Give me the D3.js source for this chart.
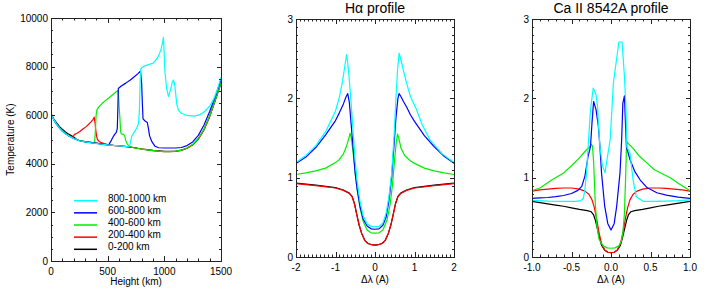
<!DOCTYPE html>
<html>
<head>
<meta charset="utf-8">
<script src="https://d3js.org/d3.v7.min.js"></script>
<style>
body { margin: 0; background: #fff; }
svg text { font-family: "Liberation Sans", Arial, Helvetica, sans-serif; fill: #000; }
.tick-label { font-size: 10px; }
.title { font-size: 14px; }
.axis-title { font-size: 10px; }
.legend text { font-size: 10px; }
.curve { fill: none; stroke-width: 1.2px; stroke-linejoin: round; }
.frame { fill: none; stroke: #222; stroke-width: 1px; }
.tick { stroke: #222; stroke-width: 1px; }
</style>
</head>
<body>
<svg id="chart" width="708" height="295"></svg>
<script>
// series: black, red, green, blue, cyan  (0-200 ... 800-1000 km)
var seriesColors = ["#000000", "#ff0000", "#00ee00", "#0000ff", "#00ffff"];
var legendLabels = ["800-1000 km", "600-800 km", "400-600 km", "200-400 km", "0-200 km"];
var legendColors = ["#00ffff", "#0000ff", "#00ee00", "#ff0000", "#000000"];

// ---- panel 1 : temperature (K) vs height (km)
var temp0_200 = [[0,6060],[25,5830],[50,5680],[75,5530],[100,5420],[125,5320],[150,5240],[175,5170],[200,5100],[225,5010],[250,4960],[300,4910],[350,4880],[400,4850],[450,4820],[500,4790],[550,4760],[600,4740],[650,4720],[700,4690],[750,4650],[800,4610],[850,4580],[900,4550],[950,4530],[1000,4510],[1050,4510],[1100,4520],[1150,4560],[1200,4640],[1250,4780],[1300,5020],[1350,5400],[1400,5950],[1450,6620],[1500,7330]];
var temp200_400 = [[0,6060],[25,5820],[50,5630],[75,5480],[100,5360],[125,5260],[150,5180],[175,5110],[195,5100],[205,5200],[230,5260],[254,5330],[285,5440],[313,5540],[340,5660],[357,5745],[372,5830],[381,5920],[388,5700],[395,5400],[402,5150],[410,5000],[425,4920],[445,4870],[470,4820],[500,4790],[550,4760],[600,4740],[650,4720],[700,4690],[750,4650],[800,4610],[850,4575],[900,4545],[950,4520],[1000,4500],[1050,4500],[1100,4515],[1150,4555],[1200,4640],[1250,4780],[1300,5020],[1350,5400],[1400,5950],[1450,6620],[1500,7320]];
var temp400_600 = [[0,6060],[25,5820],[50,5630],[75,5480],[100,5360],[125,5260],[150,5180],[175,5110],[200,5050],[250,4960],[300,4910],[350,4880],[380,4860],[386,4950],[392,5400],[398,6000],[405,6220],[420,6330],[450,6480],[480,6600],[520,6750],[560,6900],[590,7020],[596,6800],[602,6300],[608,5900],[614,5350],[620,5230],[640,5210],[650,5150],[660,4950],[672,4820],[690,4720],[720,4670],[750,4640],[800,4605],[850,4575],[900,4545],[950,4520],[1000,4505],[1050,4505],[1100,4520],[1150,4560],[1200,4650],[1250,4790],[1300,5040],[1350,5420],[1400,5970],[1450,6640],[1500,7340]];
var temp600_800 = [[0,6060],[25,5810],[50,5620],[75,5470],[100,5350],[125,5250],[150,5170],[175,5100],[200,5040],[250,4950],[300,4900],[350,4870],[400,4840],[450,4810],[490,4780],[510,4790],[525,4900],[545,5080],[560,5200],[575,5280],[585,5450],[590,6300],[594,7100],[620,7200],[660,7320],[700,7450],[740,7600],[770,7720],[790,7820],[800,7300],[806,6500],[812,5850],[830,5760],[850,5700],[858,5500],[870,5150],[889,4920],[918,4720],[950,4660],[1000,4650],[1100,4650],[1150,4670],[1200,4750],[1250,4900],[1300,5170],[1350,5600],[1400,6150],[1450,6780],[1500,7460]];
var temp800_1000 = [[0,6060],[25,5810],[50,5620],[75,5470],[100,5350],[125,5250],[150,5170],[175,5100],[200,5040],[250,4950],[300,4900],[350,4865],[400,4835],[450,4805],[500,4775],[550,4755],[600,4735],[650,4715],[680,4700],[695,4760],[712,5130],[740,5350],[756,5470],[772,5650],[780,6200],[786,7300],[792,7900],[815,8010],[860,8080],[903,8150],[930,8300],[950,8450],[970,8700],[985,9000],[992,9200],[998,8600],[1005,7800],[1020,7100],[1036,6770],[1055,7050],[1070,7350],[1080,7450],[1090,7300],[1100,6900],[1110,6450],[1125,6200],[1150,6080],[1200,5990],[1260,5960],[1310,6010],[1350,6130],[1400,6370],[1435,6660],[1470,7080],[1500,7570]];

// ---- panel 2 : H-alpha profile, intensity vs delta lambda (A)
var ha0_200 = [[-2,0.93],[-1.5,0.905],[-1.0,0.875],[-0.8,0.845],[-0.65,0.805],[-0.58,0.765],[-0.52,0.675],[-0.46,0.535],[-0.4,0.4],[-0.34,0.3],[-0.26,0.21],[-0.18,0.17],[-0.08,0.155],[0,0.15],[0.08,0.155],[0.18,0.17],[0.26,0.21],[0.34,0.3],[0.4,0.4],[0.46,0.535],[0.52,0.675],[0.58,0.765],[0.65,0.805],[0.8,0.845],[1.0,0.875],[1.5,0.905],[2,0.93]];
var ha200_400 = [[-2,0.925],[-1.5,0.9],[-1.0,0.87],[-0.8,0.84],[-0.65,0.8],[-0.58,0.76],[-0.52,0.67],[-0.46,0.53],[-0.4,0.4],[-0.34,0.3],[-0.26,0.21],[-0.18,0.17],[-0.08,0.155],[0,0.15],[0.08,0.155],[0.18,0.17],[0.26,0.21],[0.34,0.3],[0.4,0.4],[0.46,0.53],[0.52,0.67],[0.58,0.76],[0.65,0.8],[0.8,0.84],[1.0,0.87],[1.5,0.9],[2,0.925]];
var ha400_600 = [[-2,1.04],[-1.75,1.06],[-1.5,1.085],[-1.25,1.12],[-1.0,1.19],[-0.9,1.23],[-0.8,1.3],[-0.72,1.4],[-0.66,1.5],[-0.63,1.56],[-0.6,1.5],[-0.55,1.3],[-0.5,1.05],[-0.45,0.85],[-0.38,0.62],[-0.3,0.45],[-0.2,0.34],[-0.1,0.305],[0,0.3],[0.1,0.305],[0.2,0.34],[0.3,0.46],[0.38,0.65],[0.44,0.9],[0.5,1.25],[0.54,1.45],[0.57,1.55],[0.6,1.5],[0.66,1.37],[0.75,1.28],[0.9,1.21],[1.0,1.18],[1.25,1.12],[1.5,1.085],[1.75,1.06],[2,1.04]];
var ha600_800 = [[-2,1.18],[-1.75,1.26],[-1.5,1.38],[-1.25,1.54],[-1.0,1.72],[-0.9,1.82],[-0.8,1.93],[-0.74,2.01],[-0.69,2.06],[-0.65,1.95],[-0.6,1.65],[-0.55,1.35],[-0.5,1.05],[-0.45,0.85],[-0.38,0.64],[-0.3,0.48],[-0.2,0.39],[-0.1,0.355],[0,0.35],[0.1,0.355],[0.2,0.4],[0.28,0.5],[0.35,0.7],[0.42,1.0],[0.48,1.4],[0.53,1.75],[0.58,2.0],[0.61,2.06],[0.66,2.02],[0.72,1.96],[0.8,1.89],[0.9,1.79],[1.0,1.71],[1.25,1.53],[1.5,1.39],[1.75,1.27],[2,1.18]];
var ha800_1000 = [[-2,1.19],[-1.75,1.28],[-1.5,1.4],[-1.25,1.58],[-1.0,1.84],[-0.9,2.02],[-0.82,2.22],[-0.76,2.42],[-0.72,2.55],[-0.68,2.4],[-0.62,2.05],[-0.56,1.62],[-0.5,1.2],[-0.45,0.95],[-0.38,0.7],[-0.3,0.52],[-0.2,0.42],[-0.1,0.385],[0,0.38],[0.1,0.385],[0.2,0.43],[0.28,0.55],[0.35,0.75],[0.42,1.05],[0.48,1.5],[0.53,2.0],[0.57,2.35],[0.61,2.57],[0.66,2.48],[0.72,2.35],[0.8,2.19],[0.9,2.02],[1.05,1.86],[1.2,1.66],[1.4,1.47],[1.7,1.3],[2,1.19]];

// ---- panel 3 : Ca II 8542 profile
var ca0_200 = [[-1,0.70],[-0.9,0.685],[-0.8,0.67],[-0.7,0.655],[-0.6,0.64],[-0.5,0.62],[-0.4,0.6],[-0.3,0.585],[-0.25,0.57],[-0.22,0.53],[-0.2,0.47],[-0.18,0.39],[-0.15,0.26],[-0.12,0.15],[-0.08,0.085],[-0.04,0.06],[0,0.055],[0.04,0.06],[0.08,0.085],[0.12,0.15],[0.15,0.26],[0.18,0.39],[0.2,0.47],[0.22,0.53],[0.25,0.57],[0.3,0.585],[0.4,0.6],[0.5,0.62],[0.6,0.64],[0.7,0.655],[0.8,0.67],[0.9,0.685],[1,0.70]];
var ca200_400 = [[-1,0.83],[-0.9,0.845],[-0.8,0.855],[-0.7,0.865],[-0.6,0.87],[-0.5,0.87],[-0.4,0.855],[-0.33,0.83],[-0.28,0.79],[-0.24,0.72],[-0.21,0.62],[-0.18,0.47],[-0.15,0.3],[-0.12,0.17],[-0.08,0.09],[-0.04,0.06],[0,0.055],[0.04,0.06],[0.08,0.09],[0.12,0.17],[0.15,0.3],[0.18,0.47],[0.21,0.62],[0.24,0.72],[0.28,0.79],[0.33,0.83],[0.4,0.855],[0.5,0.87],[0.6,0.87],[0.7,0.865],[0.8,0.855],[0.9,0.845],[1,0.83]];
var ca400_600 = [[-1,0.835],[-0.9,0.87],[-0.75,0.97],[-0.6,1.06],[-0.5,1.15],[-0.4,1.25],[-0.33,1.33],[-0.28,1.38],[-0.25,1.42],[-0.235,1.4],[-0.22,1.2],[-0.2,0.7],[-0.18,0.4],[-0.15,0.22],[-0.1,0.14],[-0.05,0.115],[0,0.11],[0.05,0.115],[0.1,0.14],[0.13,0.2],[0.15,0.3],[0.17,0.55],[0.185,1.0],[0.195,1.35],[0.205,1.45],[0.22,1.43],[0.28,1.37],[0.35,1.28],[0.45,1.19],[0.55,1.1],[0.65,1.05],[0.75,1.0],[0.85,0.93],[1,0.835]];
var ca600_800 = [[-1,0.74],[-0.9,0.745],[-0.8,0.75],[-0.7,0.76],[-0.6,0.775],[-0.5,0.8],[-0.42,0.84],[-0.37,0.89],[-0.33,1.02],[-0.29,1.27],[-0.26,1.39],[-0.24,1.7],[-0.22,1.96],[-0.19,1.86],[-0.16,1.65],[-0.14,1.39],[-0.12,1.06],[-0.08,0.64],[-0.04,0.42],[0,0.34],[0.04,0.42],[0.072,0.64],[0.114,1.06],[0.135,1.48],[0.15,1.94],[0.17,2.03],[0.18,1.77],[0.195,1.39],[0.24,1.23],[0.3,1.08],[0.37,0.97],[0.45,0.88],[0.58,0.81],[0.7,0.78],[0.85,0.755],[1,0.74]];
var ca800_1000 = [[-1,0.715],[-0.8,0.705],[-0.6,0.70],[-0.45,0.70],[-0.38,0.71],[-0.35,0.74],[-0.33,0.85],[-0.31,1.06],[-0.29,1.39],[-0.26,1.85],[-0.225,2.13],[-0.19,2.05],[-0.17,1.9],[-0.16,1.69],[-0.14,1.39],[-0.11,1.16],[-0.076,1.06],[-0.05,1.23],[-0.01,1.48],[0.03,2.19],[0.07,2.49],[0.1,2.71],[0.14,2.71],[0.17,2.28],[0.19,1.86],[0.2,1.39],[0.24,1.31],[0.28,0.97],[0.32,0.76],[0.41,0.70],[0.5,0.70],[0.7,0.705],[0.85,0.71],[1,0.72]];

// axis ticks
var heightTicks = [0, 500, 1000, 1500];
var tempTicks = [0, 2000, 4000, 6000, 8000, 10000];
var haTicks = [-2, -1, 0, 1, 2];
var caTicks = [-1.0, -0.5, 0.0, 0.5, 1.0];
var intensityTicks = [0, 1, 2, 3];

var svg = d3.select("#chart");

function drawPanel(cfg) {
    var x = d3.scaleLinear().domain(cfg.xDomain).range([cfg.left, cfg.right]);
    var y = d3.scaleLinear().domain(cfg.yDomain).range([cfg.bottom, cfg.top]);
    var g = svg.append("g");
    var clipId = "clip" + cfg.id;
    g.append("clipPath").attr("id", clipId).append("rect")
        .attr("x", cfg.left).attr("y", cfg.top)
        .attr("width", cfg.right - cfg.left).attr("height", cfg.bottom - cfg.top);

    var line = d3.line().x(function(d) { return x(d[0]); }).y(function(d) { return y(d[1]); });
    g.append("g").attr("clip-path", "url(#" + clipId + ")")
        .selectAll("path").data(cfg.series).enter().append("path")
        .attr("class", "curve")
        .attr("stroke", function(d, i) { return seriesColors[i]; })
        .attr("d", line);

    // frame
    g.append("rect").attr("class", "frame")
        .attr("x", cfg.left + 0.5).attr("y", cfg.top + 0.5)
        .attr("width", cfg.right - cfg.left).attr("height", cfg.bottom - cfg.top);

    // minor + major ticks, pointing inward on all four sides
    var xMinor = d3.range(cfg.xDomain[0], cfg.xDomain[1] + 1e-9, cfg.xMinorStep);
    var yMinor = d3.range(cfg.yDomain[0], cfg.yDomain[1] + 1e-9, cfg.yMinorStep);
    var ticks = g.append("g");
    function xt(vals, len) {
        vals.forEach(function(v) {
            var px = Math.round(x(v)) + 0.5;
            ticks.append("line").attr("class", "tick").attr("x1", px).attr("x2", px)
                .attr("y1", cfg.bottom).attr("y2", cfg.bottom - len);
            ticks.append("line").attr("class", "tick").attr("x1", px).attr("x2", px)
                .attr("y1", cfg.top).attr("y2", cfg.top + len);
        });
    }
    function yt(vals, len) {
        vals.forEach(function(v) {
            var py = Math.round(y(v)) + 0.5;
            ticks.append("line").attr("class", "tick").attr("y1", py).attr("y2", py)
                .attr("x1", cfg.left).attr("x2", cfg.left + len);
            ticks.append("line").attr("class", "tick").attr("y1", py).attr("y2", py)
                .attr("x1", cfg.right).attr("x2", cfg.right - len);
        });
    }
    xt(xMinor, 2.5); xt(cfg.xTicks, 5);
    yt(yMinor, 2); yt(cfg.yTicks, 4);

    g.selectAll(".xl").data(cfg.xTicks).enter().append("text")
        .attr("class", "tick-label").attr("text-anchor", "middle")
        .attr("x", function(d) { return x(d); }).attr("y", cfg.bottom + 14)
        .text(cfg.xFmt);
    g.selectAll(".yl").data(cfg.yTicks).enter().append("text")
        .attr("class", "tick-label").attr("text-anchor", "end")
        .attr("x", cfg.left - 3).attr("y", function(d) { return y(d); }).attr("dy", "0.36em")
        .text(cfg.yFmt);

    g.append("text").attr("class", "axis-title").attr("text-anchor", "middle")
        .attr("x", (cfg.left + cfg.right) / 2).attr("y", cfg.xTitleY).text(cfg.xTitle);
    if (cfg.title) {
        g.append("text").attr("class", "title").attr("text-anchor", "middle")
            .attr("x", (cfg.left + cfg.right) / 2).attr("y", 13).text(cfg.title);
    }
    if (cfg.yTitle) {
        g.append("text").attr("class", "axis-title").attr("text-anchor", "middle")
            .attr("transform", "translate(14," + ((cfg.top + cfg.bottom) / 2) + ") rotate(-90)")
            .text(cfg.yTitle);
    }
    return { x: x, y: y, g: g };
}

var fmtHyphen = function(d) { return String(d).replace("\u2212", "-"); };

var p1 = drawPanel({
    id: 1, left: 51, right: 221, top: 18, bottom: 261,
    xDomain: [0, 1500], yDomain: [0, 10000],
    xTicks: heightTicks, yTicks: tempTicks, xMinorStep: 100, yMinorStep: 500,
    xFmt: fmtHyphen, yFmt: fmtHyphen,
    xTitle: "Height (km)", xTitleY: 285, yTitle: "Temperature (K)",
    series: [temp0_200, temp200_400, temp400_600, temp600_800, temp800_1000]
});

drawPanel({
    id: 2, left: 296, right: 454, top: 19, bottom: 257,
    xDomain: [-2, 2], yDomain: [0, 3],
    xTicks: haTicks, yTicks: intensityTicks, xMinorStep: 0.1, yMinorStep: 0.1,
    xFmt: fmtHyphen, yFmt: fmtHyphen,
    xTitle: "\u0394\u03bb (A)", xTitleY: 283, title: "H\u03b1 profile",
    series: [ha0_200, ha200_400, ha400_600, ha600_800, ha800_1000]
});

drawPanel({
    id: 3, left: 532, right: 690, top: 19, bottom: 257,
    xDomain: [-1, 1], yDomain: [0, 3],
    xTicks: caTicks, yTicks: intensityTicks, xMinorStep: 0.1, yMinorStep: 0.1,
    xFmt: function(d) { return d.toFixed(1); }, yFmt: fmtHyphen,
    xTitle: "\u0394\u03bb (A)", xTitleY: 283, title: "Ca II 8542A profile",
    series: [ca0_200, ca200_400, ca400_600, ca600_800, ca800_1000]
});

// legend inside the temperature panel
var legend = svg.append("g").attr("class", "legend");
var legY = d3.scaleLinear().domain([0, legendLabels.length - 1]).range([200.7, 249.3]);
legendLabels.forEach(function(lab, i) {
    legend.append("line").attr("x1", 74).attr("x2", 97)
        .attr("y1", legY(i)).attr("y2", legY(i))
        .attr("stroke", legendColors[i]).attr("stroke-width", 1.5);
    legend.append("text").attr("x", 108).attr("y", legY(i) + 1).text(lab);
});
</script>
</body>
</html>
